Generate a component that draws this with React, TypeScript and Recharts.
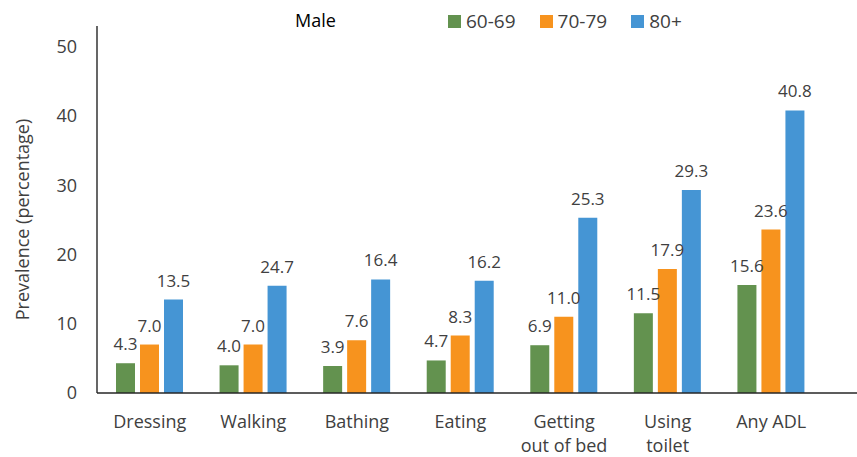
import React from 'react';
import { Bar, BarChart, LabelList, Legend, XAxis, YAxis } from 'recharts';

const categories = ['Dressing', 'Walking', 'Bathing', 'Eating', 'Getting out of bed', 'Using toilet', 'Any ADL'];
const age6069 = [4.3, 4.0, 3.9, 4.7, 6.9, 11.5, 15.6];
const age7079 = [7.0, 7.0, 7.6, 8.3, 11.0, 17.9, 23.6];
// the 80+ walking bar is drawn near 15.5 while its label reads 24.7
const age80 = [13.5, 15.5, 16.4, 16.2, 25.3, 29.3, 40.8];
const label6069 = ['4.3', '4.0', '3.9', '4.7', '6.9', '11.5', '15.6'];
const label7079 = ['7.0', '7.0', '7.6', '8.3', '11.0', '17.9', '23.6'];
const label80 = ['13.5', '24.7', '16.4', '16.2', '25.3', '29.3', '40.8'];
const yTicks = [0, 10, 20, 30, 40, 50];

const tickLines: Record<string, string[]> = {
  'Getting out of bed': ['Getting', 'out of bed'],
  'Using toilet': ['Using', 'toilet'],
};

const data = categories.map((name, i) => ({
  name,
  a: age6069[i],
  b: age7079[i],
  c: age80[i],
  la: label6069[i],
  lb: label7079[i],
  lc: label80[i],
}));

const FONT = '"Open Sans", sans-serif';
const TEXT = '#404040';

const CategoryTick = ({ x, y, payload }: any) => {
  const lines = tickLines[payload.value] || [payload.value];
  return (
    <text x={x} y={y} textAnchor="middle" fill={TEXT} fontSize={18} fontFamily={FONT}>
      {lines.map((l, i) => (
        <tspan key={i} x={x} dy={i === 0 ? 35 : 24}>
          {l}
        </tspan>
      ))}
    </text>
  );
};

const renderLegend = (props: any) => (
  <div style={{ display: 'flex', alignItems: 'center', fontFamily: FONT, fontSize: 19, color: TEXT }}>
    {props.payload.map((item: any) => (
      <div key={item.value} style={{ display: 'flex', alignItems: 'center', marginRight: 24 }}>
        <span style={{ width: 13, height: 13, background: item.color, display: 'inline-block', marginRight: 5 }} />
        <span>{item.value}</span>
      </div>
    ))}
  </div>
);

const labelStyle = { fill: TEXT, fontSize: 17, fontFamily: FONT };

export default function App() {
  return (
    <div style={{ position: 'absolute', left: 0, top: 0, width: 857, height: 457, background: '#fff' }}>
      <div
        style={{
          position: 'absolute',
          left: 295,
          top: 8,
          fontFamily: FONT,
          fontSize: 18,
          color: '#000',
          zIndex: 2,
        }}
      >
        Male
      </div>
      <BarChart
        width={857}
        height={457}
        data={data}
        margin={{ top: 26, right: 0, bottom: 0, left: 0 }}
        barGap={5}
      >
        <XAxis
          dataKey="name"
          height={64}
          tick={<CategoryTick />}
          tickLine={false}
          tickSize={0}
          tickMargin={0}
          interval={0}
          padding={{ left: 1, right: 34 }}
          axisLine={{ stroke: '#262626', strokeWidth: 1.4 }}
        />
        <YAxis
          width={97}
          domain={[0, 53]}
          ticks={yTicks}
          tickLine={false}
          tickSize={0}
          tickMargin={20}
          tick={{ fill: TEXT, fontSize: 18, fontFamily: FONT }}
          axisLine={{ stroke: '#262626', strokeWidth: 1.4 }}
          label={{
            value: 'Prevalence (percentage)',
            angle: -90,
            position: 'center',
            dx: -26,
            dy: 10,
            style: { fill: TEXT, fontSize: 18, fontFamily: FONT, textAnchor: 'middle' },
          }}
        />
        <Legend
          verticalAlign="middle"
          content={renderLegend}
          wrapperStyle={{ top: 8, left: 448, width: 'auto', height: 'auto' }}
        />
        <Bar dataKey="a" name="60-69" fill="#63924f" barSize={19} isAnimationActive={false}>
          <LabelList dataKey="la" position="top" offset={13} style={labelStyle} />
        </Bar>
        <Bar dataKey="b" name="70-79" fill="#f7931e" barSize={19} isAnimationActive={false}>
          <LabelList dataKey="lb" position="top" offset={13} style={labelStyle} />
        </Bar>
        <Bar dataKey="c" name="80+" fill="#4595d4" barSize={19} isAnimationActive={false}>
          <LabelList dataKey="lc" position="top" offset={13} style={labelStyle} />
        </Bar>
      </BarChart>
    </div>
  );
}
